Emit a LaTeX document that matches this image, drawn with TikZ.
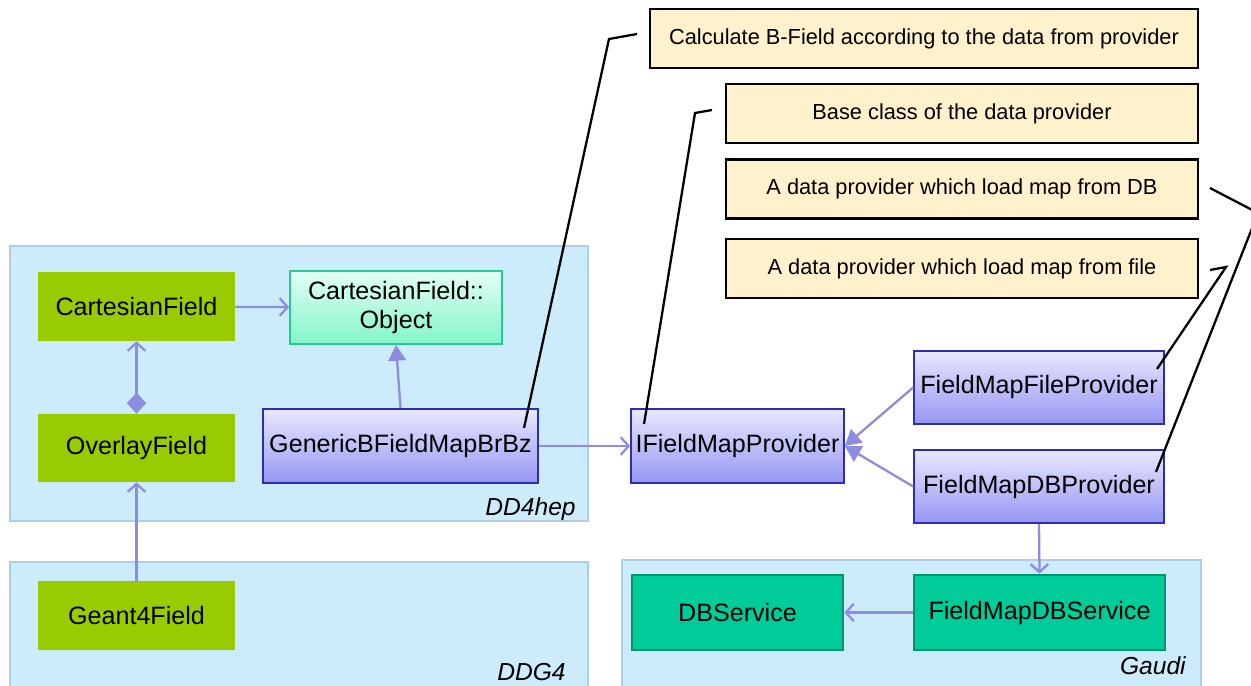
\documentclass[tikz,border=0pt]{standalone}
\usepackage{fontspec}
\setmainfont{Liberation Sans}
\usetikzlibrary{arrows.meta}

\definecolor{regionblue}{RGB}{204,236,252}
\definecolor{regionedge}{RGB}{175,205,230}
\definecolor{leafgreen}{RGB}{153,204,0}
\definecolor{svcgreen}{RGB}{0,204,153}
\definecolor{svcedge}{RGB}{0,150,105}
\definecolor{objtop}{RGB}{228,255,246}
\definecolor{objbottom}{RGB}{130,245,200}
\definecolor{objedge}{RGB}{40,200,150}
\definecolor{clstop}{RGB}{232,232,255}
\definecolor{clsbottom}{RGB}{150,150,242}
\definecolor{clsedge}{RGB}{45,45,175}
\definecolor{notefill}{RGB}{255,241,204}
\definecolor{connblue}{RGB}{140,140,224}

\begin{document}
\begin{tikzpicture}[x=0.02cm, y=-0.02cm,
    region/.style={fill=regionblue, draw=regionedge, line width=0.6pt},
    regionlabel/.style={font=\fontsize{14}{16}\selectfont\itshape, inner sep=0pt},
    box/.style={inner sep=0pt, align=center, font=\fontsize{14.3}{17}\selectfont},
    leaf/.style={box, fill=leafgreen},
    svc/.style={box, fill=svcgreen, draw=svcedge, line width=1.6pt},
    obj/.style={box, top color=objtop, bottom color=objbottom, draw=objedge, line width=1pt},
    cls/.style={box, top color=clstop, bottom color=clsbottom, draw=clsedge, line width=1pt},
    note/.style={inner sep=0pt, fill=notefill, draw=black, line width=1.2pt,
        minimum width=9.44cm, minimum height=1.18cm, font=\fontsize{12.4}{14}\selectfont},
    conn/.style={draw=connblue, line width=1.3pt},
    assoc/.style={conn, -{Straight Barb[length=4.5pt, width=10pt, line width=1.3pt]}},
    inherit/.style={conn, -{Triangle[length=9pt, width=10pt]}},
    callout/.style={draw=black, line width=1.3pt}]

    % Frame
    \clip (0,0) rectangle (1251,686);
    \fill[white] (0,0) rectangle (1251,686);

    % Package regions
    \draw[region] (10,246) rectangle (588,521);
    \draw[region] (10,562) rectangle (588,692);
    \draw[region] (622,560) rectangle (1201,692);
    \node[regionlabel, anchor=base east] (dd4hep) at (576,515) {DD4hep};
    \node[regionlabel, anchor=base east] (ddg4) at (566,680) {DDG4};
    \node[regionlabel, anchor=base east] (gaudi) at (1186,674) {Gaudi};

    % Classes
    \node[leaf, minimum width=3.94cm, minimum height=1.38cm] (cf) at (136.5,306.5) {CartesianField};
    \node[leaf, minimum width=3.94cm, minimum height=1.36cm] (of) at (136.5,448) {OverlayField};
    \node[leaf, minimum width=3.94cm, minimum height=1.38cm] (g4) at (136.5,615.5) {Geant4Field};
    \node[obj, minimum width=4.24cm, minimum height=1.46cm] (obj) at (396,307.5) {CartesianField::\\Object};
    \node[cls, minimum width=5.5cm, minimum height=1.48cm] (gen) at (400.5,446) {GenericBFieldMapBrBz};
    \node[cls, minimum width=4.26cm, minimum height=1.48cm] (ifp) at (737.5,446) {IFieldMapProvider};
    \node[cls, minimum width=5cm, minimum height=1.46cm] (ffp) at (1039,387.5) {FieldMapFileProvider};
    \node[cls, minimum width=5cm, minimum height=1.46cm] (fdp) at (1039,486.5) {FieldMapDBProvider};
    \node[svc, minimum width=4.22cm, minimum height=1.5cm] (dbs) at (737.5,612.5) {DBService};
    \node[svc, minimum width=5.02cm, minimum height=1.5cm] (fds) at (1039.5,612.5) {FieldMapDBService};

    % Notes
    \node[note, minimum width=10.96cm] (n1) at (924,38.5) {Calculate B-Field according to the data from provider};
    \node[note] (n2) at (962,113.5) {Base class of the data provider};
    \node[note] (n3) at (962,189) {A data provider which load map from DB};
    \node[note] (n4) at (962,268.5) {A data provider which load map from file};

    % Relations
    \draw[assoc] (cf) -- (obj);
    \draw[conn, {Diamond[length=12pt, width=11pt]}-{Straight Barb[length=4.5pt, width=10pt, line width=1.3pt]}] (of) -- (cf);
    \draw[assoc] (g4) -- (of);
    \draw[inherit] (gen.north) -- (obj.south);
    \draw[assoc] (gen) -- (ifp);
    \draw[inherit] (ffp.west) -- (ifp.east);
    \draw[inherit] (fdp.west) -- (ifp.east);
    \draw[assoc] (fdp.south) -- (fds.north);
    \draw[assoc] (fds) -- (dbs);

    % Callout lines
    \coordinate (c1s) at (637,34);
    \coordinate (c1k) at (609,39);
    \coordinate (c1e) at (524,428);
    \coordinate (c2s) at (712,110);
    \coordinate (c2k) at (695,113);
    \coordinate (c2e) at (644,424);
    \coordinate (c3s) at (1210,188);
    \coordinate (c3k) at (1258,213);
    \coordinate (c3e) at (1156,472);
    \coordinate (c4s) at (1210,270);
    \coordinate (c4k) at (1226,267);
    \coordinate (c4e) at (1157,369);
    \draw[callout] (c1s) -- (c1k) -- (c1e);
    \draw[callout] (c2s) -- (c2k) -- (c2e);
    \draw[callout] (c3s) -- (c3k) -- (c3e);
    \draw[callout] (c4s) -- (c4k) -- (c4e);

\end{tikzpicture}
\end{document}
